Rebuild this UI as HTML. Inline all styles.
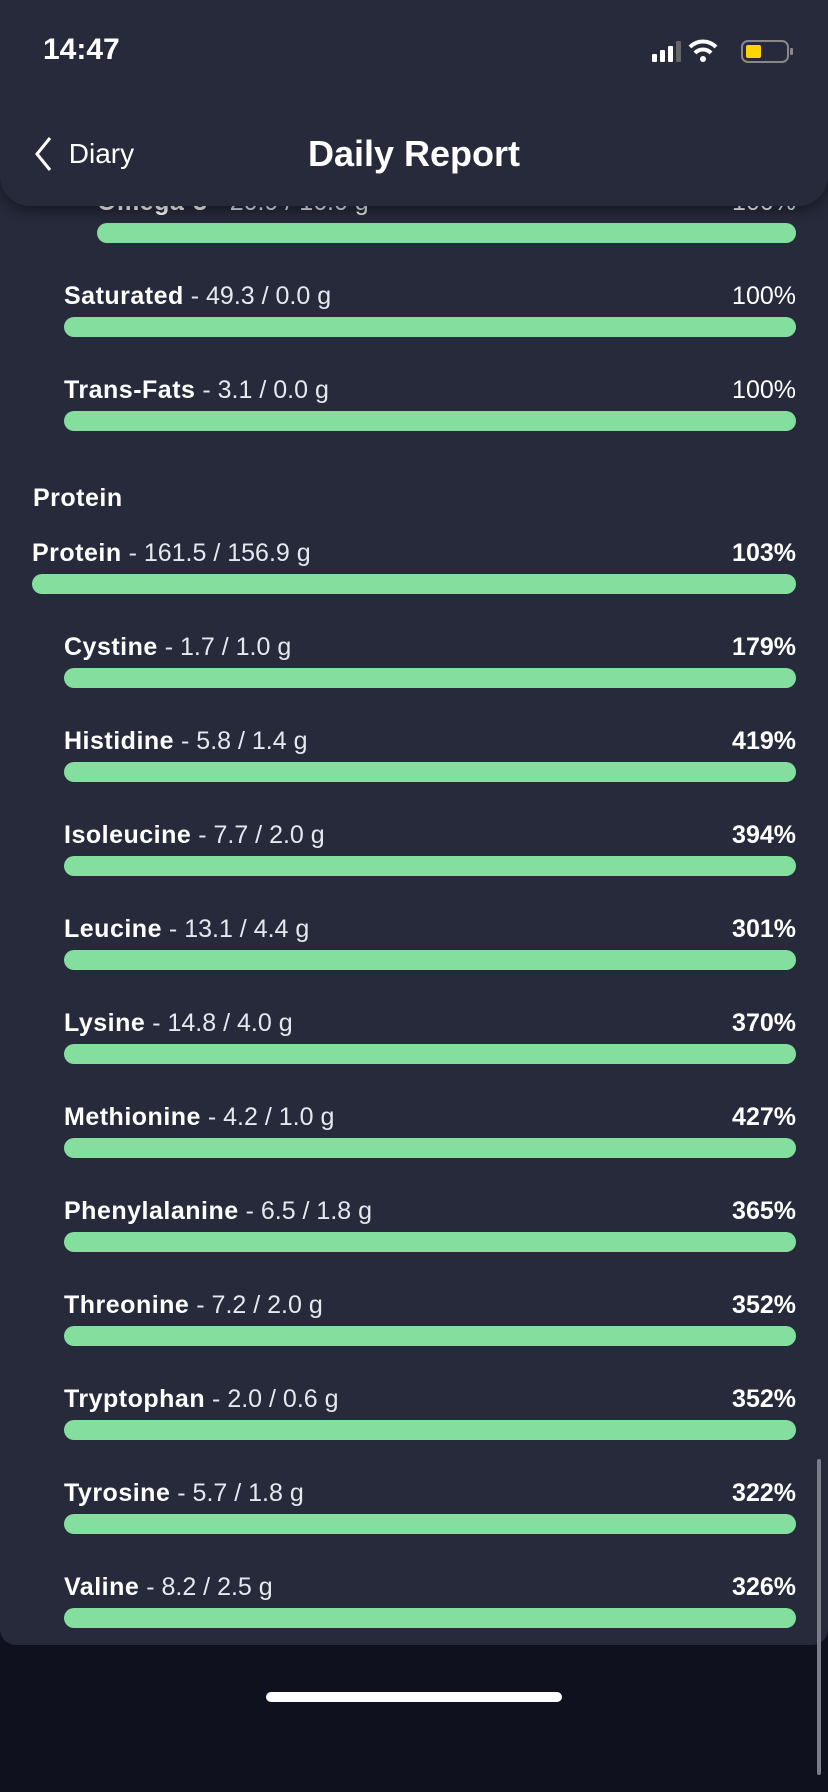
<!DOCTYPE html>
<html><head><meta charset="utf-8">
<style>
html,body{margin:0;padding:0;}
body{width:828px;height:1792px;background:#10111f;position:relative;overflow:hidden;font-family:"Liberation Sans",sans-serif;color:#fff;}
#card{position:absolute;left:0;top:0;width:828px;height:1645px;background:#262a3b;border-radius:0 0 16px 16px;}
#header{position:absolute;left:0;top:0;width:828px;height:206px;background:#262a3b;border-radius:0 0 30px 30px;box-shadow:0 4px 14px rgba(0,0,0,0.45);z-index:5;}
.lbl{position:absolute;font-size:25px;white-space:nowrap;}
.lbl b{font-weight:bold;letter-spacing:0.5px;}
.lbl span{font-weight:normal;color:#e6e8ef;}
.pct{position:absolute;right:32px;font-size:25px;text-align:right;}
.bar{position:absolute;height:20px;background:#84df9f;border-radius:10px;}
</style></head>
<body>
<div id="card"></div>
<div id="header">
  <div style="position:absolute;left:43px;top:33px;font-size:30px;font-weight:bold;">14:47</div>
  <svg style="position:absolute;left:650px;top:38px" width="150" height="28">
    <rect x="2" y="16" width="5" height="8" rx="1" fill="#fff"/>
    <rect x="10" y="12" width="5" height="12" rx="1" fill="#fff"/>
    <rect x="18" y="8" width="5" height="16" rx="1" fill="#fff"/>
    <rect x="26" y="3" width="5" height="21" rx="1" fill="#666"/>
    <path d="M40 9 A18 18 0 0 1 66 9" stroke="#fff" stroke-width="4" fill="none"/>
    <path d="M45 15 A11 11 0 0 1 61 15" stroke="#fff" stroke-width="4" fill="none"/>
    <circle cx="53" cy="21" r="3" fill="#fff"/>
    <rect x="92" y="3" width="46" height="21" rx="6" fill="none" stroke="#888" stroke-width="2"/>
    <rect x="96" y="7" width="15" height="13" rx="2" fill="#ffd500"/>
    <rect x="140" y="10" width="3" height="7" rx="1" fill="#888"/>
  </svg>
  <div style="position:absolute;left:33px;top:136px;font-size:28px;">
    <svg width="20" height="36" style="vertical-align:middle"><path d="M17 2 L4 18 L17 34" stroke="#fff" stroke-width="3" fill="none"/></svg>
    <span style="vertical-align:middle;margin-left:8px">Diary</span>
  </div>
  <div style="position:absolute;left:0;width:828px;top:133px;text-align:center;font-size:36px;font-weight:bold;">Daily Report</div>
</div>
<div id="rows"></div>
<div style="position:absolute;left:33px;top:484px;font-size:25px;font-weight:bold;letter-spacing:0.5px">Protein</div>
<div style="position:absolute;left:817px;top:1459px;width:4px;height:316px;background:#7b7e89;border-radius:2px"></div>
<div style="position:absolute;left:266px;top:1692px;width:296px;height:10px;background:#fff;border-radius:5px"></div>
<script>
const names=["Omega-3","Saturated","Trans-Fats","Protein","Cystine","Histidine","Isoleucine","Leucine","Lysine","Methionine","Phenylalanine","Threonine","Tryptophan","Tyrosine","Valine"];
const amounts=["20.9 / 16.0 g","49.3 / 0.0 g","3.1 / 0.0 g","161.5 / 156.9 g","1.7 / 1.0 g","5.8 / 1.4 g","7.7 / 2.0 g","13.1 / 4.4 g","14.8 / 4.0 g","4.2 / 1.0 g","6.5 / 1.8 g","7.2 / 2.0 g","2.0 / 0.6 g","5.7 / 1.8 g","8.2 / 2.5 g"];
const percents=[100,100,100,103,179,419,394,301,370,427,365,352,352,322,326];
const indents=[97,64,64,32,64,64,64,64,64,64,64,64,64,64,64];
const rows=document.getElementById('rows');
for(let i=0;i<names.length;i++){
  const cy = i<3 ? 233+i*94 : 584+(i-3)*94;
  const x=indents[i];
  const l=document.createElement('div');
  l.className='lbl';
  
  
  l.style.left=x+'px';l.style.top=(cy-45)+'px';
  l.innerHTML='<b>'+names[i]+'</b><span> - '+amounts[i]+'</span>';
  rows.appendChild(l);
  const p=document.createElement('div');
  p.className='pct';
  
  
  p.style.top=(cy-45)+'px';
  p.style.fontWeight=percents[i]===100?'normal':'bold';
  p.textContent=percents[i]+'%';
  rows.appendChild(p);
  const b=document.createElement('div');
  b.className='bar';
  
  
  const frac=Math.min(percents[i],100)/100;
  b.style.left=x+'px';b.style.top=(cy-10)+'px';
  b.style.width=((796-x)*frac)+'px';
  rows.appendChild(b);
}
</script>
</body></html>
